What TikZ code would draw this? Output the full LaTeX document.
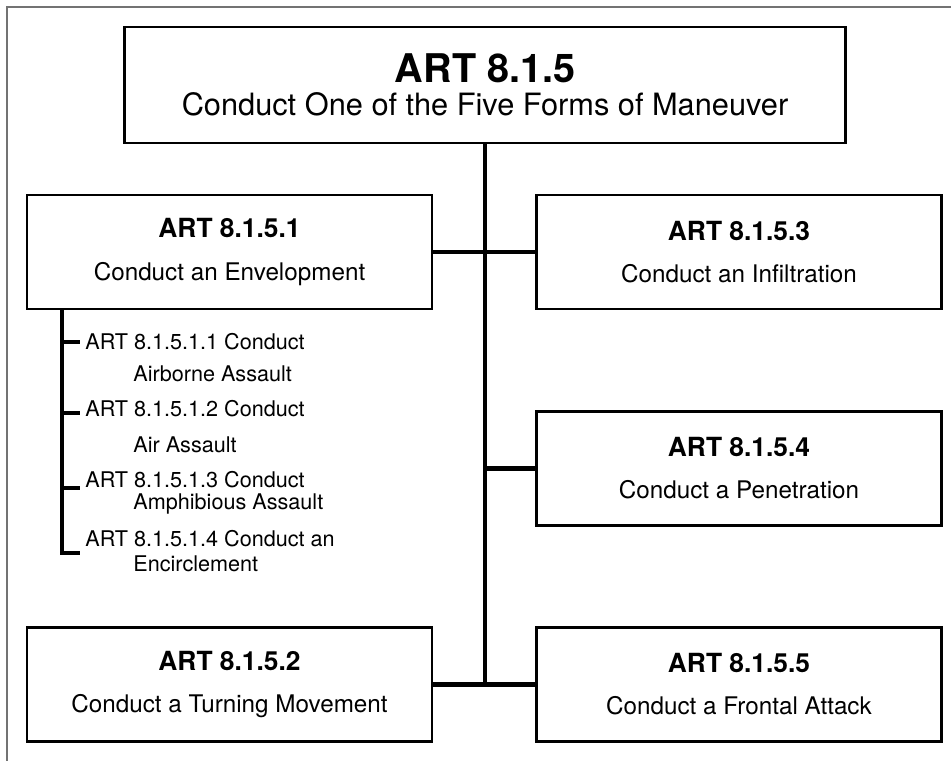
\documentclass[tikz,border=0pt]{standalone}
\usepackage{fontspec}
\setmainfont{TeX Gyre Heros}
\usetikzlibrary{calc}

\tikzset{
  artbox/.style={draw, line width=1.6pt, minimum width=8.1cm, minimum height=2.28cm, align=center, font=\fontsize{13.8}{16}\selectfont},
  link/.style={line width=2.8pt},
  subline/.style={line width=2.2pt},
  subitem/.style={anchor=west, inner sep=0pt, font=\fontsize{12.3}{14}\selectfont},
  frame/.style={draw=black!55, line width=0.6pt}
}
\newcommand{\arttitle}[1]{{\fontsize{15}{15}\selectfont\bfseries #1}}

\begin{document}
\begin{tikzpicture}
  \useasboundingbox (0,0) rectangle (19.02,15.22);
  \draw[frame] (0.14,0) -- (0.14,15.08) -- (19.02,15.08);

  % top task
  \node[artbox, minimum width=14.42cm, minimum height=2.32cm, font=\fontsize{17.5}{18.5}\selectfont] (top) at (9.70,13.52) {{\fontsize{22.5}{22.5}\selectfont\bfseries ART 8.1.5}\\Conduct One of the Five Forms of Maneuver};

  % the five forms
  \node[artbox] (b1) at (4.59,10.18) {\arttitle{ART 8.1.5.1}\\[8pt]Conduct an Envelopment};
  \node[artbox] (b3) at (14.78,10.18) {\arttitle{ART 8.1.5.3}\\[8pt]Conduct an Infiltration};
  \node[artbox] (b4) at (14.78,5.85) {\arttitle{ART 8.1.5.4}\\[8pt]Conduct a Penetration};
  \node[artbox] (b2) at (4.59,1.53) {\arttitle{ART 8.1.5.2}\\[8pt]Conduct a Turning Movement};
  \node[artbox] (b5) at (14.78,1.53) {\arttitle{ART 8.1.5.5}\\[8pt]Conduct a Frontal Attack};

  \draw[link] (top.south) -- (top.south |- b2.east);
  \draw[link] (b1.east) -- (b3.west);
  \draw[link] (top.south |- b4.west) -- (b4.west);
  \draw[link] (b2.east) -- (b5.west);

  % envelopment sub-tasks
  \node[subitem] (s1) at (1.70,8.38) {ART 8.1.5.1.1 Conduct};
  \node[subitem] (s1b) at (2.66,7.74) {Airborne Assault};
  \node[subitem] (s2) at (1.70,7.04) {ART 8.1.5.1.2 Conduct};
  \node[subitem] (s2b) at (2.66,6.32) {Air Assault};
  \node[subitem] (s3) at (1.70,5.62) {ART 8.1.5.1.3 Conduct};
  \node[subitem] (s3b) at (2.66,5.14) {Amphibious Assault};
  \node[subitem] (s4) at (1.70,4.44) {ART 8.1.5.1.4 Conduct an};
  \node[subitem] (s4b) at (2.66,3.94) {Encirclement};

  \coordinate (sv) at (1.24,0);
  \coordinate (t1) at (1.60,8.38);
  \coordinate (t2) at (1.60,6.96);
  \coordinate (t3) at (1.60,5.46);
  \coordinate (t4) at (1.60,4.16);
  \draw[subline] (sv |- b1.south) -- (sv |- t4) -- (t4);
  \draw[subline] (sv |- t1) -- (t1);
  \draw[subline] (sv |- t2) -- (t2);
  \draw[subline] (sv |- t3) -- (t3);
\end{tikzpicture}
\end{document}
